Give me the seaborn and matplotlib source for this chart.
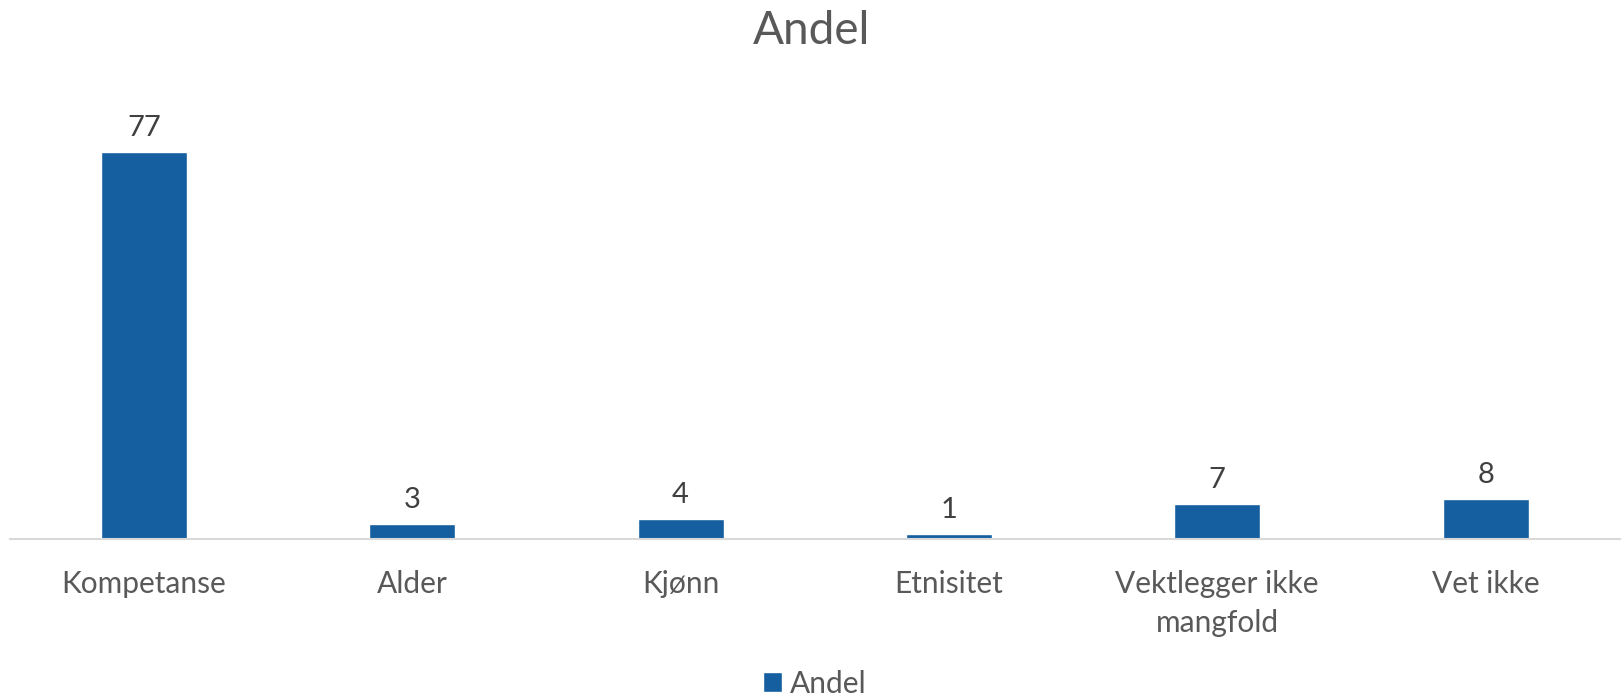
import matplotlib
matplotlib.use('Agg')
import matplotlib.pyplot as plt
import seaborn as sns

categories = ['Kompetanse', 'Alder', 'Kjønn', 'Etnisitet',
              'Vektlegger ikke\nmangfold', 'Vet ikke']
values = [77, 3, 4, 1, 7, 8]
series_name = 'Andel'

sns.set_style('white')
plt.rcParams['font.family'] = ['Lato', 'DejaVu Sans']

bar_color = '#155FA0'
fig = plt.figure(figsize=(16.23, 6.95), dpi=100)
ax = fig.add_axes([0.006, 0.2245, 0.992, 0.65])

sns.barplot(x=categories, y=values, color=bar_color, width=0.32,
            saturation=1, label=series_name, ax=ax)

for i, v in enumerate(values):
    ax.text(i, v + 2.2, str(v), ha='center', va='bottom',
            fontsize=21, color='#404040')

ax.set_ylim(0, 90)
ax.set_yticks([])
ax.set_xlabel('')
ax.set_ylabel('')
for s in ['top', 'right', 'left']:
    ax.spines[s].set_visible(False)
ax.spines['bottom'].set_color('#D9D9D9')
ax.spines['bottom'].set_linewidth(1.5)
ax.tick_params(axis='x', length=0, pad=22, labelsize=21.5, labelcolor='#595959')
for lbl in ax.get_xticklabels():
    lbl.set_linespacing(1.5)

fig.suptitle(series_name, y=0.985, fontsize=33, color='#595959')
ax.legend(loc='center', bbox_to_anchor=(0.5, -0.32), frameon=False,
          fontsize=21.5, labelcolor='#595959', handlelength=0.65,
          handleheight=0.65, handletextpad=0.25)

fig.savefig('out.png', dpi=100)
